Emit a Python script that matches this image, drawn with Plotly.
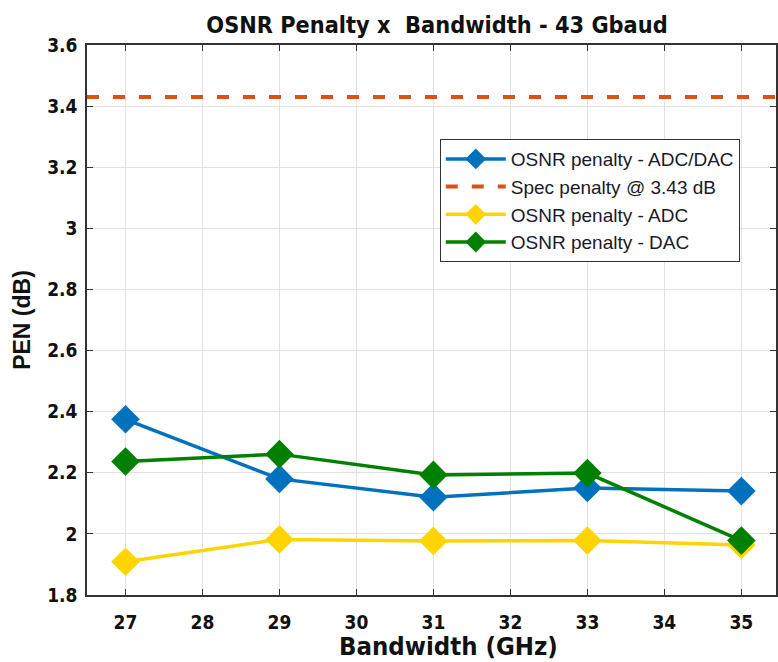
import plotly.graph_objects as go

# Bandwidth sweep (GHz) and measured OSNR penalty (dB)
bandwidth = [27, 29, 31, 33, 35]
pen_adc_dac = [2.375, 2.18, 2.12, 2.15, 2.14]
pen_adc = [1.909, 1.982, 1.977, 1.978, 1.964]
pen_dac = [2.237, 2.261, 2.193, 2.199, 1.978]
spec_penalty = 3.43

x_ticks = [27, 28, 29, 30, 31, 32, 33, 34, 35]
y_ticks = [1.8, 2.0, 2.2, 2.4, 2.6, 2.8, 3.0, 3.2, 3.4, 3.6]
y_tick_text = ["1.8", "2", "2.2", "2.4", "2.6", "2.8", "3", "3.2", "3.4", "3.6"]

x_range = [26.5, 35.45]
y_range = [1.8, 3.6]

BLUE = "#0072BD"
ORANGE = "#D95319"
YELLOW = "#FFD400"
GREEN = "#008000"

NARROW = "DejaVu Sans Condensed, Liberation Sans Narrow, Arial Narrow, Liberation Sans, sans-serif"
SANS = "Liberation Sans, Arial, sans-serif"

fig = go.Figure()


def series(y, name, color):
    return go.Scatter(
        x=bandwidth, y=y, name=name, mode="lines+markers",
        line=dict(color=color, width=3.5),
        marker=dict(symbol="diamond", size=22, color=color),
    )


fig.add_trace(series(pen_adc_dac, "OSNR penalty - ADC/DAC", BLUE))
fig.add_trace(go.Scatter(
    x=x_range, y=[spec_penalty, spec_penalty], name="Spec penalty @ 3.43 dB",
    mode="lines", line=dict(color=ORANGE, width=4, dash="12px,14px"),
))
fig.add_trace(series(pen_adc, "OSNR penalty - ADC", YELLOW))
fig.add_trace(series(pen_dac, "OSNR penalty - DAC", GREEN))

fig.update_layout(
    width=778, height=662,
    margin=dict(l=87, r=0, t=45, b=67),
    paper_bgcolor="white", plot_bgcolor="white",
    title=dict(
        text="OSNR Penalty x  Bandwidth - 43 Gbaud",
        x=0.508, xanchor="center", xref="paper", y=0.962, yanchor="middle",
        font=dict(family=NARROW, size=23.3, color="#111111", weight="bold"),
    ),
    legend=dict(
        x=0.512, y=0.829, xanchor="left", yanchor="top",
        bgcolor="white", bordercolor="#333333", borderwidth=1,
        font=dict(family=SANS, size=19, color="#1a1a2a"),
        tracegroupgap=0, itemwidth=60,
    ),
    showlegend=True,
)

# x-axis title placed as a paper-anchored label just under the tick labels
fig.add_annotation(
    text="Bandwidth (GHz)", xref="paper", yref="paper",
    x=0.525, y=-0.092, xanchor="center", yanchor="middle", showarrow=False,
    font=dict(family=NARROW, size=25.5, color="#111111", weight="bold"),
)

fig.update_xaxes(
    range=x_range, tickvals=x_ticks, ticktext=[str(v) for v in x_ticks],
    showgrid=True, gridcolor="#e2e2e2", gridwidth=1,
    showline=True, linecolor="#333333", linewidth=1.5, mirror="ticks",
    ticks="inside", ticklen=6, tickcolor="#333333", zeroline=False,
    ticklabelstandoff=9,
    tickfont=dict(family=NARROW, size=19, color="#111111", weight="bold"),
)
fig.update_yaxes(
    range=y_range, tickvals=y_ticks, ticktext=y_tick_text,
    showgrid=True, gridcolor="#e2e2e2", gridwidth=1,
    showline=True, linecolor="#333333", linewidth=1.5, mirror="ticks",
    ticks="inside", ticklen=6, tickcolor="#333333", zeroline=False,
    ticklabelstandoff=4,
    tickfont=dict(family=NARROW, size=19, color="#111111", weight="bold"),
    title=dict(text="PEN (dB)", standoff=10,
               font=dict(family=SANS, size=23, color="#111111", weight="bold")),
)

fig.write_html("out.html")
